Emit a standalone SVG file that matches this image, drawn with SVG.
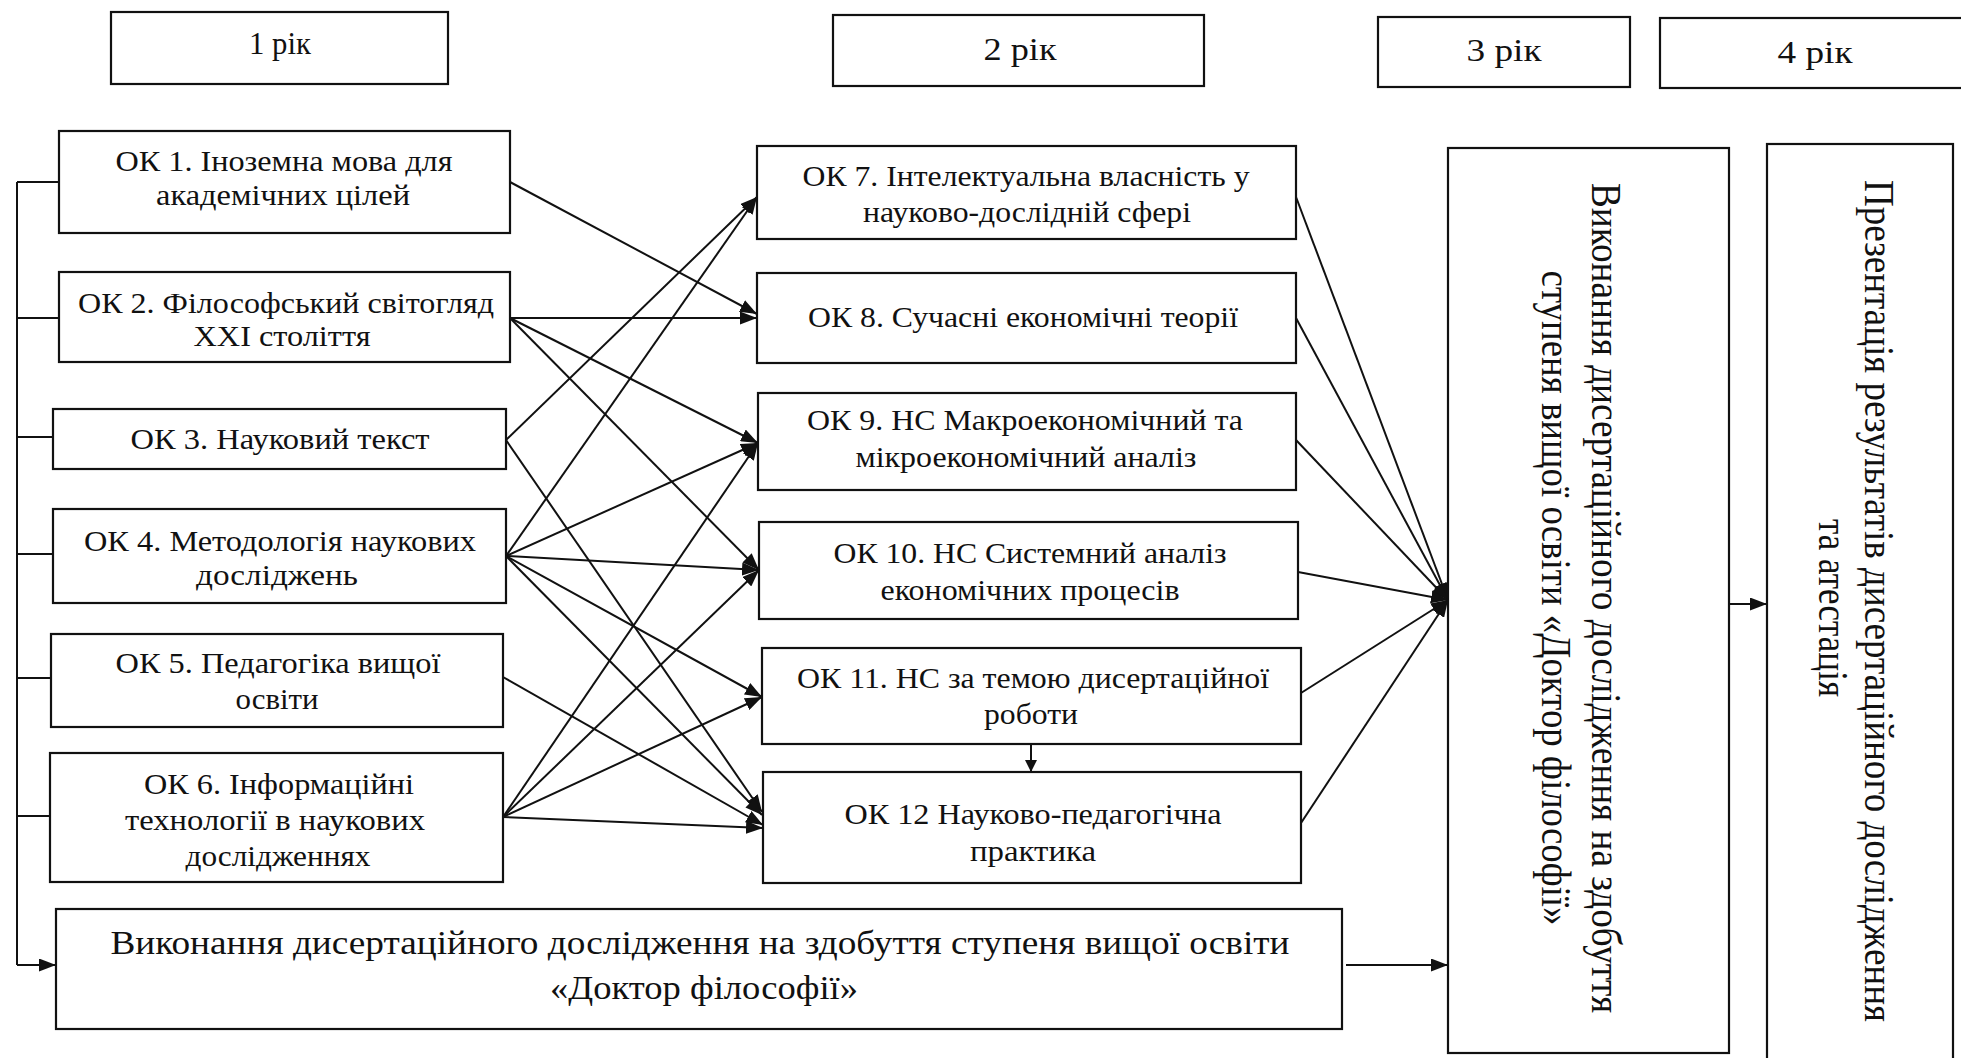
<svg xmlns="http://www.w3.org/2000/svg" width="1961" height="1058" viewBox="0 0 1961 1058">
<style>
.b{fill:#fff;stroke:#111;stroke-width:2.2}
.t{font-family:"Liberation Serif","Times New Roman",serif;font-size:30px;fill:#111;text-anchor:middle}
.y{font-size:32px}
.bt{font-size:33px}
.v{font-family:"Liberation Serif","Times New Roman",serif;font-size:38px;fill:#111;text-anchor:middle}
.c{fill:none;stroke:#111;stroke-width:2}
.a{marker-end:url(#ah)}
</style>
<defs>
<marker id="ah" markerUnits="userSpaceOnUse" markerWidth="17" markerHeight="13" refX="17" refY="6.5" orient="auto">
<path d="M0,0 L17,6.5 L0,13 z" fill="#111"/>
</marker>
<marker id="ahs" markerUnits="userSpaceOnUse" markerWidth="12" markerHeight="12" refX="12" refY="6" orient="auto">
<path d="M0,0 L12,6 L0,12 z" fill="#111"/>
</marker>
</defs>
<rect width="1961" height="1058" fill="#fff"/>

<g id="year1"><rect class="b" x="111" y="12" width="337" height="72"/><text class="t y" x="280" y="54" textLength="62" lengthAdjust="spacingAndGlyphs">1 рік</text></g>
<g id="year2"><rect class="b" x="833" y="15" width="371" height="71"/><text class="t y" x="1020" y="60" textLength="73" lengthAdjust="spacingAndGlyphs">2 рік</text></g>
<g id="year3"><rect class="b" x="1378" y="17" width="252" height="70"/><text class="t y" x="1504" y="61" textLength="75" lengthAdjust="spacingAndGlyphs">3 рік</text></g>
<g id="year4"><rect class="b" x="1660" y="18" width="310" height="70"/><text class="t y" x="1815" y="63" textLength="75" lengthAdjust="spacingAndGlyphs">4 рік</text></g>

<g id="ok1"><rect class="b" x="59" y="131" width="451" height="102"/>
<text class="t" x="284" y="171" textLength="337" lengthAdjust="spacingAndGlyphs">ОК 1. Іноземна мова для</text>
<text class="t" x="283" y="205" textLength="254" lengthAdjust="spacingAndGlyphs">академічних цілей</text></g>
<g id="ok2"><rect class="b" x="59" y="272" width="451" height="90"/>
<text class="t" x="286" y="313" textLength="416" lengthAdjust="spacingAndGlyphs">ОК 2. Філософський світогляд</text>
<text class="t" x="282" y="346" textLength="177" lengthAdjust="spacingAndGlyphs">XXI століття</text></g>
<g id="ok3"><rect class="b" x="53" y="409" width="453" height="60"/>
<text class="t" x="280" y="449" textLength="299" lengthAdjust="spacingAndGlyphs">ОК 3. Науковий текст</text></g>
<g id="ok4"><rect class="b" x="53" y="509" width="453" height="94"/>
<text class="t" x="280" y="551" textLength="392" lengthAdjust="spacingAndGlyphs">ОК 4. Методологія наукових</text>
<text class="t" x="277" y="585" textLength="162" lengthAdjust="spacingAndGlyphs">досліджень</text></g>
<g id="ok5"><rect class="b" x="51" y="634" width="452" height="93"/>
<text class="t" x="278" y="673" textLength="325" lengthAdjust="spacingAndGlyphs">ОК 5. Педагогіка вищої</text>
<text class="t" x="277" y="709" textLength="83" lengthAdjust="spacingAndGlyphs">освіти</text></g>
<g id="ok6"><rect class="b" x="50" y="753" width="453" height="129"/>
<text class="t" x="279" y="794" textLength="270" lengthAdjust="spacingAndGlyphs">ОК 6. Інформаційні</text>
<text class="t" x="275" y="830" textLength="300" lengthAdjust="spacingAndGlyphs">технології в наукових</text>
<text class="t" x="278" y="866" textLength="185" lengthAdjust="spacingAndGlyphs">дослідженнях</text></g>

<g id="ok7"><rect class="b" x="757" y="146" width="539" height="93"/>
<text class="t" x="1026" y="186" textLength="447" lengthAdjust="spacingAndGlyphs">ОК 7. Інтелектуальна власність у</text>
<text class="t" x="1027" y="222" textLength="328" lengthAdjust="spacingAndGlyphs">науково-дослідній сфері</text></g>
<g id="ok8"><rect class="b" x="757" y="273" width="539" height="90"/>
<text class="t" x="1023" y="327" textLength="430" lengthAdjust="spacingAndGlyphs">ОК 8. Сучасні економічні теорії</text></g>
<g id="ok9"><rect class="b" x="758" y="393" width="538" height="97"/>
<text class="t" x="1025" y="430" textLength="436" lengthAdjust="spacingAndGlyphs">ОК 9. НС Макроекономічний та</text>
<text class="t" x="1026" y="467" textLength="341" lengthAdjust="spacingAndGlyphs">мікроекономічний аналіз</text></g>
<g id="ok10"><rect class="b" x="759" y="522" width="539" height="97"/>
<text class="t" x="1030" y="563" textLength="393" lengthAdjust="spacingAndGlyphs">ОК 10. НС Системний аналіз</text>
<text class="t" x="1030" y="600" textLength="299" lengthAdjust="spacingAndGlyphs">економічних процесів</text></g>
<g id="ok11"><rect class="b" x="762" y="648" width="539" height="96"/>
<text class="t" x="1033" y="688" textLength="472" lengthAdjust="spacingAndGlyphs">ОК 11. НС за темою дисертаційної</text>
<text class="t" x="1031" y="724" textLength="94" lengthAdjust="spacingAndGlyphs">роботи</text></g>
<g id="ok12"><rect class="b" x="763" y="772" width="538" height="111"/>
<text class="t" x="1033" y="824" textLength="377" lengthAdjust="spacingAndGlyphs">ОК 12 Науково-педагогічна</text>
<text class="t" x="1033" y="861" textLength="126" lengthAdjust="spacingAndGlyphs">практика</text></g>

<g id="dissertation"><rect class="b" x="56" y="909" width="1286" height="120"/>
<text class="t bt" x="700" y="954" textLength="1179" lengthAdjust="spacingAndGlyphs">Виконання дисертаційного дослідження на здобуття ступеня вищої освіти</text>
<text class="t bt" x="704" y="999" textLength="308" lengthAdjust="spacingAndGlyphs">«Доктор філософії»</text></g>

<g id="year3-box"><rect class="b" x="1448" y="148" width="281" height="905"/>
<text class="v" transform="translate(1592,598) scale(1.1,1) rotate(90)" textLength="830" lengthAdjust="spacingAndGlyphs">Виконання дисертаційного дослідження на здобуття</text>
<text class="v" transform="translate(1542,598) scale(1.1,1) rotate(90)" textLength="655" lengthAdjust="spacingAndGlyphs">ступеня вищої освіти «Доктор філософії»</text></g>
<g id="year4-box"><rect class="b" x="1767" y="144" width="186" height="930"/>
<text class="v" transform="translate(1865,601) scale(1.1,1) rotate(90)" textLength="842" lengthAdjust="spacingAndGlyphs">Презентація результатів дисертаційного дослідження</text>
<text class="v" transform="translate(1819,608) scale(1.1,1) rotate(90)" textLength="178" lengthAdjust="spacingAndGlyphs">та атестація</text></g>

<g id="connectors">
<path class="c" d="M17,182 V965 M17,182 H59 M17,318 H59 M17,437 H53 M17,554 H53 M17,678 H51 M17,816 H50"/>
<line class="c a" x1="17" y1="965" x2="56" y2="965"/>
<line class="c a" x1="510" y1="182" x2="757" y2="314"/>
<line class="c a" x1="510" y1="318" x2="757" y2="318"/>
<line class="c a" x1="510" y1="318" x2="758" y2="443"/>
<line class="c a" x1="510" y1="318" x2="759" y2="570"/>
<line class="c a" x1="506" y1="440" x2="757" y2="197"/>
<line class="c a" x1="506" y1="440" x2="762" y2="812"/>
<line class="c a" x1="506" y1="556" x2="757" y2="197"/>
<line class="c a" x1="506" y1="556" x2="758" y2="443"/>
<line class="c a" x1="506" y1="556" x2="759" y2="570"/>
<line class="c a" x1="506" y1="556" x2="762" y2="697"/>
<line class="c a" x1="506" y1="556" x2="762" y2="815"/>
<line class="c a" x1="503" y1="677" x2="763" y2="825"/>
<line class="c a" x1="503" y1="817" x2="758" y2="443"/>
<line class="c a" x1="503" y1="817" x2="759" y2="570"/>
<line class="c a" x1="503" y1="817" x2="762" y2="697"/>
<line class="c a" x1="503" y1="817" x2="763" y2="828"/>
<line class="c a" x1="1296" y1="197" x2="1448" y2="600"/>
<line class="c a" x1="1296" y1="318" x2="1448" y2="600"/>
<line class="c a" x1="1296" y1="440" x2="1448" y2="600"/>
<line class="c a" x1="1298" y1="572" x2="1448" y2="600"/>
<line class="c a" x1="1301" y1="693" x2="1448" y2="600"/>
<line class="c a" x1="1301" y1="823" x2="1448" y2="600"/>
<line class="c a" x1="1346" y1="965" x2="1448" y2="965"/>
<line class="c a" x1="1729" y1="604" x2="1767" y2="604"/>
<line class="c" x1="1031" y1="744" x2="1031" y2="772" marker-end="url(#ahs)"/>
</g>
</svg>
